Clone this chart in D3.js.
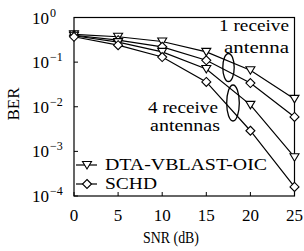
<!DOCTYPE html>
<html>
<head>
<meta charset="utf-8">
<script src="https://cdn.jsdelivr.net/npm/d3@7"></script>
<style>
  body { margin: 0; background: #fff; }
</style>
</head>
<body>
<script>
let width = 304;
let height = 251;

// data
let snr = [0, 5, 10, 15, 20, 25];
let oic1 = [0.42, 0.37, 0.29, 0.17, 0.066, 0.015];
let schd1 = [0.40, 0.31, 0.22, 0.11, 0.034, 0.0059];
let oic4 = [0.39, 0.28, 0.17, 0.07, 0.011, 0.00074];
let schd4 = [0.37, 0.24, 0.13, 0.036, 0.0029, 0.00016];
let xTicks = [0, 5, 10, 15, 20, 25];
let yExps = [0, -1, -2, -3, -4];

let series = [
  { name: "DTA-VBLAST-OIC", values: oic1, marker: "tri" },
  { name: "SCHD", values: schd1, marker: "dia" },
  { name: "DTA-VBLAST-OIC", values: oic4, marker: "tri" },
  { name: "SCHD", values: schd4, marker: "dia" },
];

let svg = d3
  .select("body")
  .append("svg")
  .attr("width", width)
  .attr("height", height)
  .attr("font-family", "'Liberation Serif', 'Times New Roman', serif");

let x = d3.scaleLinear().domain([0, 25]).range([74, 294.5]);
let y = d3.scaleLog().domain([1e-4, 1]).range([196, 17.5]);

function markerPath(type) {
  if (type == "tri") return "M-4.5,-3.5L4.5,-3.5L0,4Z";
  return "M0,-4.5L4.5,0L0,4.5L-4.5,0Z";
}

// frame
svg
  .append("rect")
  .attr("x", x(0))
  .attr("y", y(1))
  .attr("width", x(25) - x(0))
  .attr("height", y(1e-4) - y(1))
  .attr("fill", "none")
  .attr("stroke", "#000")
  .attr("stroke-width", 1.2);

// x ticks
let xAxis = svg.append("g").attr("transform", `translate(0,${y(1e-4)})`);
xAxis
  .selectAll("line")
  .data(xTicks)
  .enter()
  .append("line")
  .attr("x1", (d) => x(d))
  .attr("x2", (d) => x(d))
  .attr("y1", 0)
  .attr("y2", -4)
  .attr("stroke", "#000");
xAxis
  .selectAll("text")
  .data(xTicks)
  .enter()
  .append("text")
  .attr("x", (d) => x(d))
  .attr("y", 25)
  .attr("text-anchor", "middle")
  .attr("font-size", "17px")
  .text((d) => d);

// y ticks
let yAxis = svg.append("g");
yAxis
  .selectAll("line")
  .data(yExps)
  .enter()
  .append("line")
  .attr("x1", x(0))
  .attr("x2", x(0) + 4)
  .attr("y1", (d) => y(Math.pow(10, d)))
  .attr("y2", (d) => y(Math.pow(10, d)))
  .attr("stroke", "#000");
let yLab = yAxis
  .selectAll("text")
  .data(yExps)
  .enter()
  .append("text")
  .attr("x", 32)
  .attr("y", (d) => y(Math.pow(10, d)) + 6)
  .attr("font-size", "17px");
yLab.append("tspan").text("10");
yLab
  .append("tspan")
  .attr("dx", 1)
  .attr("dy", -7)
  .attr("font-size", "12px")
  .text((d) => (d == 0 ? "0" : "\u2212" + -d));

// axis titles
svg
  .append("text")
  .attr("x", 171)
  .attr("y", 243)
  .attr("text-anchor", "middle")
  .attr("font-size", "17px")
  .attr("textLength", 56)
  .attr("lengthAdjust", "spacingAndGlyphs")
  .text("SNR (dB)");
svg
  .append("text")
  .attr("transform", "translate(19,104) rotate(-90)")
  .attr("text-anchor", "middle")
  .attr("font-size", "17px")
  .text("BER");

// curves
let line = d3
  .line()
  .x((d, i) => x(snr[i]))
  .y((d) => y(d));

svg
  .selectAll(".curve")
  .data(series)
  .enter()
  .append("path")
  .attr("class", "curve")
  .attr("d", (d) => line(d.values))
  .attr("fill", "none")
  .attr("stroke", "#000")
  .attr("stroke-width", 1.2);

series.forEach(function (s) {
  svg
    .append("g")
    .selectAll("path")
    .data(s.values)
    .enter()
    .append("path")
    .attr("transform", (d, i) => `translate(${x(snr[i])},${y(d)})`)
    .attr("d", markerPath(s.marker))
    .attr("fill", "#fff")
    .attr("stroke", "#000")
    .attr("stroke-width", 1.1);
});

// annotations
svg
  .append("ellipse")
  .attr("cx", 228.5)
  .attr("cy", 67.5)
  .attr("rx", 5.7)
  .attr("ry", 14)
  .attr("fill", "none")
  .attr("stroke", "#000")
  .attr("stroke-width", 1.3);
svg
  .append("ellipse")
  .attr("cx", 233)
  .attr("cy", 103)
  .attr("rx", 6.3)
  .attr("ry", 18)
  .attr("fill", "none")
  .attr("stroke", "#000")
  .attr("stroke-width", 1.3);

let notes = [
  { t: "1 receive", x: 219, y: 31, w: 70 },
  { t: "antenna", x: 224, y: 53, w: 65 },
  { t: "4 receive", x: 148, y: 113, w: 70 },
  { t: "antennas", x: 150, y: 131, w: 70 },
];
svg
  .selectAll(".note")
  .data(notes)
  .enter()
  .append("text")
  .attr("class", "note")
  .attr("x", (d) => d.x)
  .attr("y", (d) => d.y)
  .attr("font-size", "17px")
  .attr("textLength", (d) => d.w)
  .attr("lengthAdjust", "spacingAndGlyphs")
  .text((d) => d.t);

// legend
let legend = svg
  .selectAll(".legend")
  .data(series.slice(0, 2))
  .enter()
  .append("g")
  .attr("class", "legend")
  .attr("transform", (d, i) => `translate(76,${165 + i * 19})`);
legend
  .append("line")
  .attr("x1", 0)
  .attr("x2", 21)
  .attr("stroke", "#000")
  .attr("stroke-width", 1.2);
legend
  .append("path")
  .attr("transform", "translate(11,0)")
  .attr("d", (d) => markerPath(d.marker))
  .attr("fill", "#fff")
  .attr("stroke", "#000")
  .attr("stroke-width", 1.1);
legend
  .append("text")
  .attr("x", 29)
  .attr("y", 5)
  .attr("font-size", "17px")
  .attr("textLength", (d) => (d.name == "SCHD" ? 52 : 162))
  .attr("lengthAdjust", "spacingAndGlyphs")
  .text((d) => d.name);
</script>
</body>
</html>
